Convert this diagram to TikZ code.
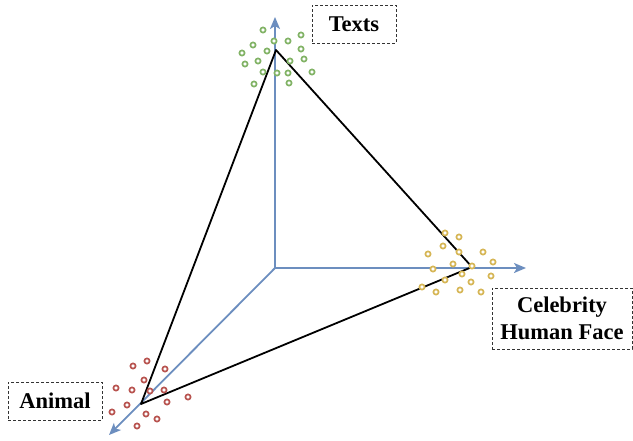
\documentclass[tikz,border=0pt]{standalone}
\usepackage{fontspec}
\setmainfont{Liberation Serif}
\usetikzlibrary{positioning}
\usetikzlibrary{arrows.meta}
\definecolor{axisblue}{HTML}{6C8EBF}
\definecolor{textgreen}{HTML}{82B366}
\definecolor{faceyellow}{HTML}{D6B656}
\definecolor{animalred}{HTML}{B85450}

\begin{document}
\begin{tikzpicture}[
    x=1pt, y=-1pt,
    axis/.style={
        draw=axisblue, line width=1.8pt,
        -{Stealth[length=12pt, width=10pt, inset=3pt]}
    },
    edge/.style={draw=black, line width=1.8pt, line join=round},
    label box/.style={
        draw=black!80, dash pattern=on 3pt off 2pt, line width=0.9pt,
        font=\fontsize{22.5}{26.5}\selectfont\bfseries,
        align=center, inner sep=0pt, minimum height=38pt
    },
    sample/.style={draw=#1, fill=white, line width=1.7pt}
]
\useasboundingbox (0,0) rectangle (633,440);

% axes
\coordinate (o) at (275,268);
\coordinate (up) at (275,17);
\coordinate (right) at (526,268);
\coordinate (down) at (109,435);

\draw[axis] (o) -- (up);
\draw[axis] (o) -- (right);
\draw[axis] (o) -- (down);

% triangle
\coordinate (t) at (276,50);
\coordinate (f) at (472,267);
\coordinate (a) at (141,404);

\draw[edge] (t) -- (f) -- (a) -- cycle;

% samples
\foreach \p in {(263,30),(301,35),(274,41),(288,41),(253,45),(301,49),
                (242,53),(267,51),(304,59),(290,61),(245,64),(258,61),
                (263,72),(277,73),(288,73),(312,72),(254,84),(289,83)}
    \draw[sample=textgreen] \p circle (2.6);

\foreach \p in {(445,233),(459,237),(443,246),(459,252),(483,252),(428,254),
                (493,262),(453,264),(433,269),(472,266),(462,274),(491,276),
                (445,280),(471,282),(422,287),(436,292),(460,290),(481,292)}
    \draw[sample=faceyellow] \p circle (2.6);

\foreach \p in {(133,366),(147,361),(165,369),(144,380),(116,388),(132,390),
                (150,391),(164,390),(127,405),(167,402),(188,397),(112,412),
                (146,414),(157,419),(137,426)}
    \draw[sample=animalred] \p circle (2.6);

% labels
\node[label box, minimum width=84pt] (texts) at (354,24) {Texts};
\node[label box, minimum width=140pt, minimum height=61pt] (face) at (562,318.5) {Celebrity\\Human Face};
\node[label box, minimum width=94pt] (animal) at (55,401) {Animal};

\end{tikzpicture}
\end{document}
